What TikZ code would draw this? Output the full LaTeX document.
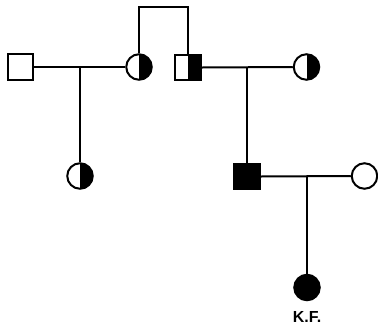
\documentclass[tikz,border=0pt]{standalone}
\usepackage{fontspec}
\newfontfamily\labelfont{Liberation Sans}
\begin{document}
\begin{tikzpicture}[x=1pt,y=-1pt,
  line width=2pt,
  person/.style={draw=black, line width=2pt, inner sep=0pt, fill=white},
  male/.style={person, rectangle, minimum size=25.5pt},
  female/.style={person, circle, minimum size=25.5pt},
  carrier/.style={path picture={\fill[black] (path picture bounding box.north) rectangle (path picture bounding box.south east);}},
  affected/.style={fill=black},
  tag/.style={font=\labelfont\bfseries\fontsize{16}{18}\selectfont}]
\useasboundingbox (0,0) rectangle (378,325);

% generation I
\node[male] (m1) at (20.5,67) {};
\node[female, carrier] (f1) at (139,67) {};
\node[male, carrier] (m2) at (188,67.5) {};
\node[female, carrier] (f2) at (306.5,67) {};

% generation II
\node[female, carrier] (c1) at (80,176) {};
\node[male, affected] (m3) at (247,176.5) {};
\node[female] (f3) at (364.5,176) {};

% generation III
\node[female, affected] (kf) at (307,287.5) {};
\node[tag] (kfl) at (307,317) {K.F.};

% sibling link between the two halves of the family
\coordinate (sib) at (139,7);
\draw (f1.north) -- (sib) -| (m2.north);

% matings and descent lines
\draw (m1.east) -- (f1.west);
\coordinate (d1) at (80,67);
\draw (d1) -- (c1.north);

\draw (m2.east) -- (f2.west);
\coordinate (d2) at (247,67);
\draw (d2) -- (m3.north);

\draw (m3.east) -- (f3.west);
\coordinate (d3) at (307,176.5);
\draw (d3) -- (kf.north);
\end{tikzpicture}
\end{document}
